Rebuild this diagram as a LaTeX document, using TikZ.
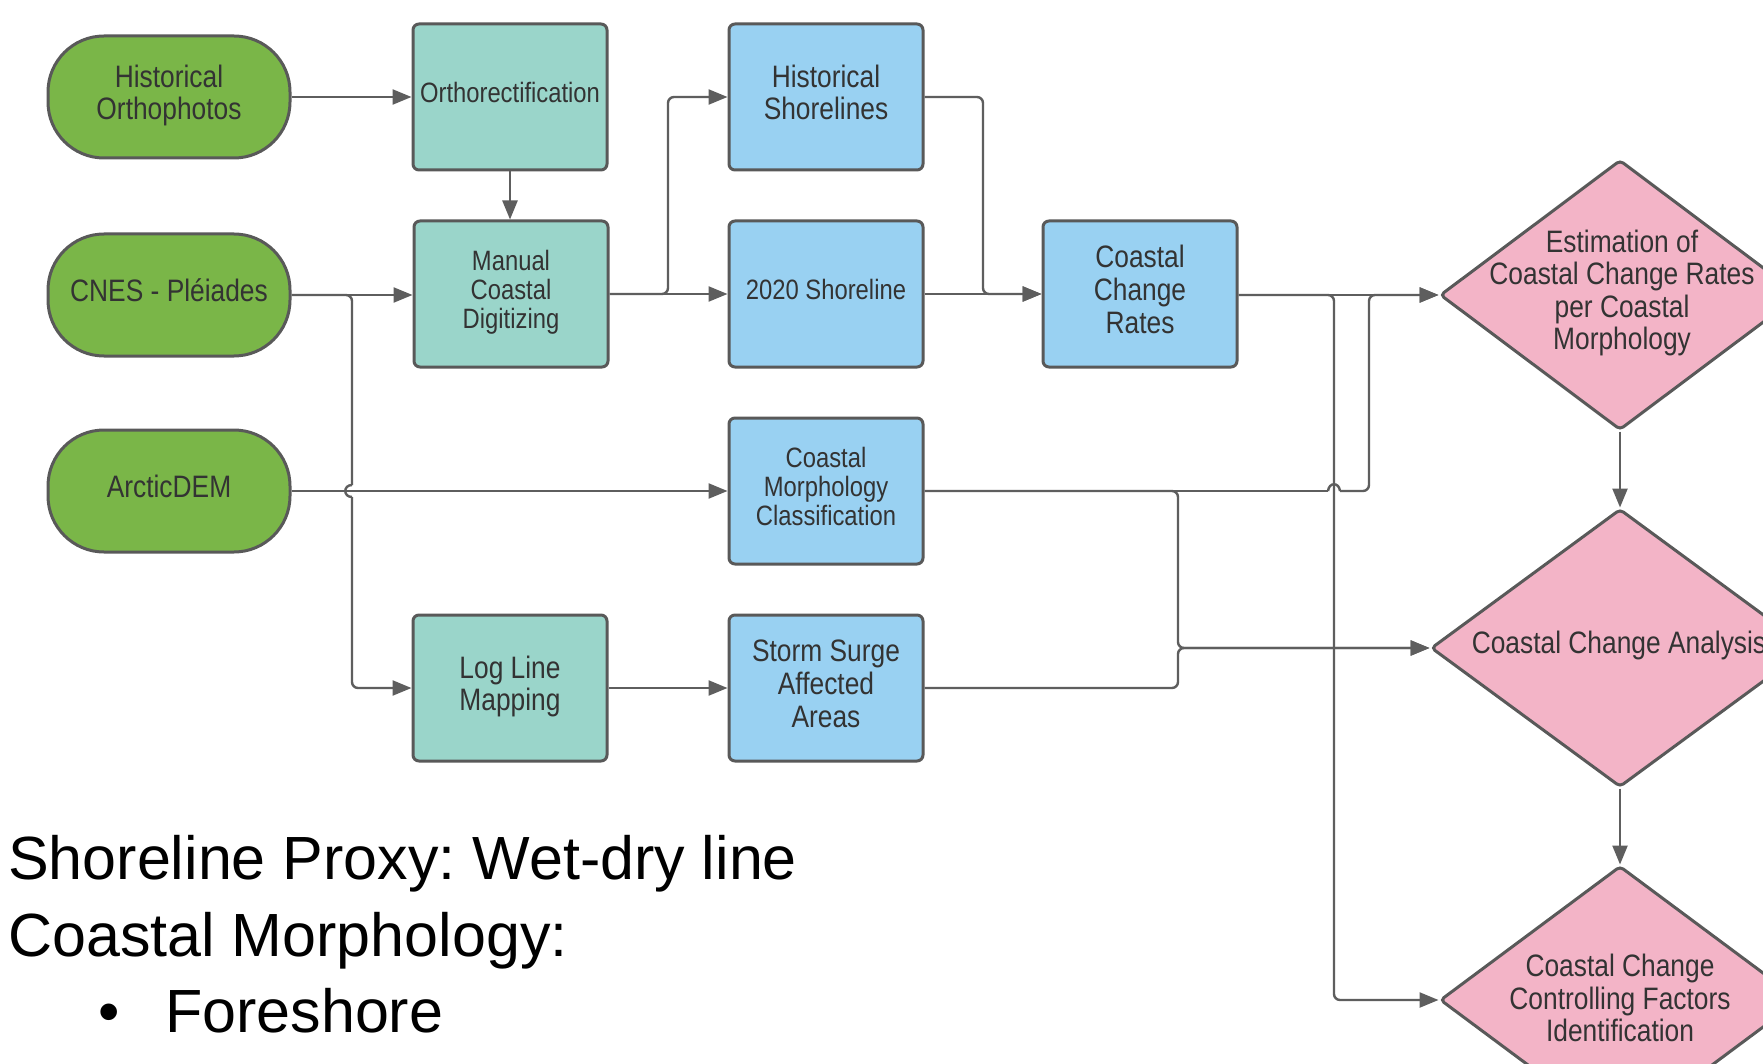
\documentclass[tikz,border=0pt]{standalone}
\usepackage{fontspec}
\usetikzlibrary{arrows.meta,shapes.geometric}
\frenchspacing
\newfontfamily\boxfamily{Liberation Sans}[FakeStretch=0.85]
\newfontfamily\notefamily{Liberation Sans}
\newcommand{\bigbox}{\boxfamily\fontsize{31}{32.6}\selectfont}
\newcommand{\smallbox}{\boxfamily\fontsize{28}{29}\selectfont}
\newcommand{\notesize}{\notefamily\fontsize{61}{76}\selectfont}
\newcommand{\tb}[1]{\begin{tabular}{@{}c@{}}#1\end{tabular}}
\definecolor{cGreen}{HTML}{7AB648}
\definecolor{cTeal}{HTML}{9AD5CA}
\definecolor{cBlue}{HTML}{99D1F2}
\definecolor{cPink}{HTML}{F3B4C7}
\definecolor{cBorder}{HTML}{595959}
\definecolor{cLine}{HTML}{5E5E5E}
\definecolor{cText}{HTML}{333333}
\tikzset{
  greenbox/.style={draw=cBorder, fill=cGreen, line width=3pt, rounded corners=56pt,
    minimum width=242pt, minimum height=122pt, text=cText, font=\bigbox, align=center, inner sep=0pt},
  tealbox/.style={draw=cBorder, fill=cTeal, line width=3pt, rounded corners=6pt,
    minimum width=194pt, minimum height=146pt, text=cText, font=\bigbox, align=center, inner sep=0pt},
  bluebox/.style={tealbox, fill=cBlue},
  smalltext/.style={font=\smallbox},
  dia/.style={diamond, draw=cBorder, fill=cPink, line width=3pt, rounded corners=4pt, inner sep=0pt},
  diatext/.style={text=cText, font=\bigbox, align=center, inner sep=0pt},
  note/.style={font=\notesize, text=black, anchor=base west, inner sep=0pt},
  wire/.style={draw=cLine, line width=2.4pt, rounded corners=6pt},
  conn/.style={wire, -{Triangle[length=19pt,width=15pt]}},
}
\begin{document}
\begin{tikzpicture}[x=1pt, y=-1pt]
\useasboundingbox (0,0) rectangle (1763,1064);
\fill[white] (0,0) rectangle (1763,1064);
\clip (0,0) rectangle (1763,1064);

% source nodes
\node[greenbox] (ho) at (169,97) {\tb{Historical\\Orthophotos}};
\node[greenbox] (cnes) at (169,295) {\tb{CNES - Pléiades}};
\node[greenbox] (adem) at (169,491) {\tb{ArcticDEM}};

% processing
\node[tealbox, smalltext] (ortho) at (510,97) {\tb{Orthorectification}};
\node[tealbox, smalltext] (mcd) at (511,294) {\tb{Manual\\Coastal\\Digitizing}};
\node[tealbox] (llm) at (510,688) {\tb{Log Line\\Mapping}};

% products
\node[bluebox] (hs) at (826,97) {\tb{Historical\\Shorelines}};
\node[bluebox, smalltext] (s2020) at (826,294) {\tb{2020 Shoreline}};
\node[bluebox] (ccr) at (1140,294) {\tb{Coastal\\Change\\Rates}};
\node[bluebox, smalltext] (cmc) at (826,491) {\tb{Coastal\\Morphology\\Classification}};
\node[bluebox] (ssa) at (826,688) {\tb{Storm Surge\\Affected\\Areas}};

% decisions
\node[dia, minimum width=360pt, minimum height=270pt] (d1) at (1620,295) {};
\node[diatext] (d1t) at (1622,293) {Estimation of\\Coastal Change Rates\\per Coastal\\Morphology};
\node[dia, minimum width=378pt, minimum height=278pt] (d2) at (1620,648) {};
\node[diatext] (d2t) at (1619,645) {Coastal Change Analysis};
\node[dia, minimum width=360pt, minimum height=268pt] (d3) at (1620,1000) {};
\node[diatext] (d3t) at (1620,998) {Coastal Change\\Controlling Factors\\Identification};

% waypoints
\coordinate (cA) at (352,295);
\coordinate (cH1) at (352,485);
\coordinate (cH2) at (352,497);
\coordinate (cB) at (352,688);
\coordinate (mA) at (668,294);
\coordinate (mB) at (668,97);
\coordinate (hA) at (983,97);
\coordinate (hB) at (983,294);
\coordinate (rA) at (1334,295);
\coordinate (rB) at (1334,1000);
\coordinate (kA) at (1328,491);
\coordinate (kB) at (1340,491);
\coordinate (kC) at (1369,491);
\coordinate (kD) at (1369,295);
\coordinate (gA) at (1178,491);
\coordinate (gB) at (1178,648);
\coordinate (sA) at (1178,688);

% connectors
\draw[conn] (ho.east) -- (ortho.west |- ho.east);
\draw[conn] (ortho.south) -- (ortho.south |- mcd.north);
\draw[conn] (cnes.east) -- (mcd.west |- cnes.east);
\draw[wire] (cnes.east) -- (cA) -- (cH1);
\draw[wire] (cH1) .. controls (343,485) and (343,497) .. (cH2);
\draw[conn] (cH2) -- (cB) -- (llm.west |- cB);
\draw[conn] (adem.east) -- (cmc.west |- adem.east);
\draw[conn] (llm.east) -- (ssa.west);
\draw[conn] (mcd.east) -- (s2020.west |- mcd.east);
\draw[conn] (mcd.east) -- (mA) -- (mB) -- (hs.west |- mB);
\draw[conn] (hs.east |- hA) -- (hA) -- (hB) -- (ccr.west |- hB);
\draw[conn] (s2020.east) -- (ccr.west |- s2020.east);
\draw[conn] (ccr.east |- d1.west) -- (d1.west);
\draw[conn] (ccr.east |- rA) -- (rA) -- (rB) -- (d3.west);
\draw[wire] (cmc.east |- kA) -- (kA);
\draw[wire] (kA) .. controls (1329,482) and (1339,482) .. (kB);
\draw[conn] (kB) -- (kC) -- (kD) -- (d1.west);
\draw[conn] (cmc.east |- gA) -- (gA) -- (gB) -- (d2.west);
\draw[conn] (ssa.east |- sA) -- (sA) -- (gB) -- (d2.west);
\draw[conn] (d1.south) -- (d2.north);
\draw[conn] (d2.south) -- (d3.north);

% notes
\node[note] (n1) at (8,879) {Shoreline Proxy: Wet-dry line};
\node[note] (n2) at (8,956) {Coastal Morphology:};
\node[note] (n3) at (98,1032) {•};
\node[note] (n4) at (165,1032) {Foreshore};
\end{tikzpicture}
\end{document}
